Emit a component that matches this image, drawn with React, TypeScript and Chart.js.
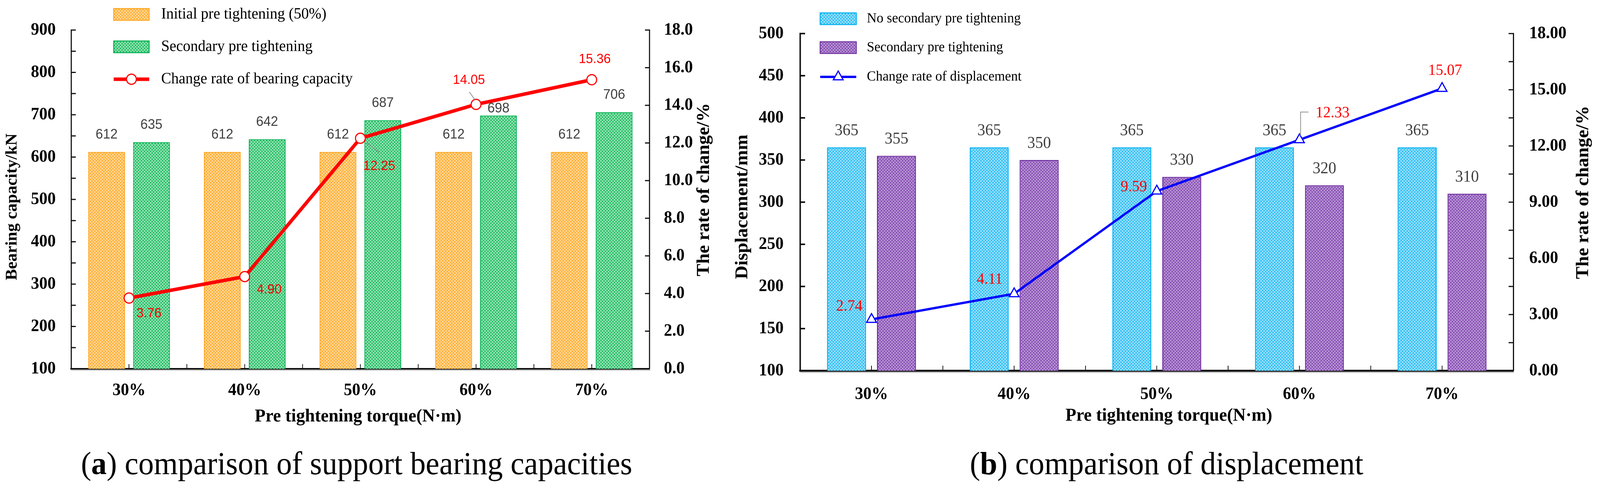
import React, { useEffect, useRef } from 'react';
import { Chart, registerables } from 'chart.js';

Chart.register(...registerables);

// ---------------- data ----------------
const categories = ['30%', '40%', '50%', '60%', '70%'];

const initialPreTightening = [612, 612, 612, 612, 612];
const secondaryCapacity = [635, 642, 687, 698, 706];
const capacityChangeRate = [3.76, 4.9, 12.25, 14.05, 15.36];

const noSecondaryDisplacement = [365, 365, 365, 365, 365];
const secondaryDisplacement = [355, 350, 330, 320, 310];
const displacementChangeRate = [2.74, 4.11, 9.59, 12.33, 15.07];

const capacityAxisTicks = { min: 100, max: 900, step: 50, labelEvery: 100 };
const capacityRateTicks = { min: 0, max: 18, step: 2, decimals: 1 };
const displacementAxisTicks = { min: 100, max: 500, step: 50 };
const displacementRateTicks = { min: 0, max: 18, step: 1.5, labelEvery: 3, decimals: 2 };

// ---------------- styles ----------------
const PAGE_W = 4249;
const PAGE_H = 1253;
const SERIF = '"Liberation Serif", "Times New Roman", serif';
const SANS = '"Liberation Sans", Arial, sans-serif';

function makePattern(base: string, light: string, size = 8, lw = 1.6) {
  const c = document.createElement('canvas');
  c.width = size;
  c.height = size;
  const g = c.getContext('2d')!;
  g.fillStyle = base;
  g.fillRect(0, 0, size, size);
  g.strokeStyle = light;
  g.lineWidth = lw;
  g.beginPath();
  for (const o of [-size, 0, size]) {
    g.moveTo(o, 0);
    g.lineTo(o + size, size);
    g.moveTo(o + size, 0);
    g.lineTo(o, size);
  }
  g.stroke();
  return g.createPattern(c, 'repeat') as CanvasPattern;
}

function drawMarker(ctx: CanvasRenderingContext2D, kind: string, x: number, y: number, r: number, color: string, lw: number) {
  ctx.save();
  ctx.fillStyle = '#ffffff';
  ctx.strokeStyle = color;
  ctx.lineWidth = lw;
  ctx.beginPath();
  if (kind === 'circle') {
    ctx.arc(x, y, r, 0, Math.PI * 2);
  } else {
    ctx.moveTo(x, y - r);
    ctx.lineTo(x + 0.866 * r, y + 0.5 * r);
    ctx.lineTo(x - 0.866 * r, y + 0.5 * r);
    ctx.closePath();
  }
  ctx.fill();
  ctx.stroke();
  ctx.restore();
}

function line(ctx: CanvasRenderingContext2D, x1: number, y1: number, x2: number, y2: number) {
  ctx.beginPath();
  ctx.moveTo(x1, y1);
  ctx.lineTo(x2, y2);
  ctx.stroke();
}

function decorPlugin(d: any) {
  return {
    id: d.id,
    afterDatasetsDraw(chart: any) {
      const ctx: CanvasRenderingContext2D = chart.ctx;
      ctx.save();
      ctx.textAlign = 'center';
      ctx.textBaseline = 'middle';
      // bar value labels
      ctx.font = d.barLabel.font;
      ctx.fillStyle = d.barLabel.color;
      d.barLabel.datasets.forEach((di: number, k: number) => {
        const meta = chart.getDatasetMeta(di);
        const ds = chart.data.datasets[di];
        const gaps = d.barLabel.gaps[k];
        meta.data.forEach((el: any, j: number) => {
          ctx.fillText(String(ds.data[j]), el.x, el.y - gaps[j]);
        });
      });
      // line value labels with leader lines
      const lm = chart.getDatasetMeta(d.lineLabel.dataset);
      const lds = chart.data.datasets[d.lineLabel.dataset];
      lm.data.forEach((el: any, j: number) => {
        const leader = d.lineLabel.leaders[j];
        if (leader) {
          ctx.strokeStyle = '#8f8f8f';
          ctx.lineWidth = 2;
          ctx.beginPath();
          leader.forEach((p: number[], k: number) => {
            if (k === 0) ctx.moveTo(el.x + p[0], el.y + p[1]);
            else ctx.lineTo(el.x + p[0], el.y + p[1]);
          });
          ctx.stroke();
        }
        const off = d.lineLabel.offsets[j];
        ctx.font = d.lineLabel.font;
        ctx.fillStyle = d.lineLabel.color;
        ctx.fillText(Number(lds.data[j]).toFixed(2), el.x + off[0], el.y + off[1]);
      });
      ctx.restore();
    },
    afterDraw(chart: any) {
      const ctx: CanvasRenderingContext2D = chart.ctx;
      const { left, right, bottom } = chart.chartArea;
      const L = d.tickLen;
      ctx.save();
      ctx.strokeStyle = d.axisColor;
      // inward tick marks on both value axes
      const ys = chart.scales.y;
      ctx.lineWidth = d.leftTickWidth;
      ys.ticks.forEach((t: any) => {
        const py = ys.getPixelForValue(t.value);
        line(ctx, left, py, left + L, py);
      });
      const y1 = chart.scales.y1;
      ctx.lineWidth = d.rightTickWidth;
      y1.ticks.forEach((t: any) => {
        const py = y1.getPixelForValue(t.value);
        line(ctx, right, py, right - L, py);
      });
      // category axis: ticks at centres and between categories
      const xs = chart.scales.x;
      const n = chart.data.labels.length;
      ctx.lineWidth = d.xTickWidth;
      for (let i = 0; i < n; i++) {
        const px = xs.getPixelForValue(i);
        line(ctx, px, bottom, px, bottom - L);
        if (i < n - 1) {
          const pm = (px + xs.getPixelForValue(i + 1)) / 2;
          line(ctx, pm, bottom, pm, bottom - L);
        }
      }
      // soft shadow under the category axis
      ctx.strokeStyle = 'rgba(150,150,150,0.55)';
      ctx.lineWidth = 3;
      line(ctx, left, bottom + d.xBorder / 2 + 1.5, right + 2, bottom + d.xBorder / 2 + 1.5);
      ctx.restore();

      // axis titles
      d.titles.forEach((t: any) => {
        ctx.save();
        ctx.font = t.font;
        ctx.fillStyle = '#000';
        ctx.textAlign = 'center';
        ctx.textBaseline = 'middle';
        ctx.translate(t.x, t.y);
        if (t.rotate) ctx.rotate(-Math.PI / 2);
        ctx.fillText(t.text, 0, 0);
        ctx.restore();
      });

      // legend (placed over the plot, as in the figure)
      const lg = d.legend;
      lg.items.forEach((it: any) => {
        const ds = chart.data.datasets[it.dataset];
        const y = it.y;
        ctx.save();
        if (it.kind === 'box') {
          ctx.fillStyle = ds.backgroundColor;
          ctx.fillRect(lg.x, y - lg.h / 2, lg.w, lg.h);
          ctx.strokeStyle = ds.borderColor;
          ctx.lineWidth = 2.5;
          ctx.strokeRect(lg.x, y - lg.h / 2, lg.w, lg.h);
        } else {
          ctx.strokeStyle = ds.borderColor;
          ctx.lineWidth = ds.borderWidth;
          line(ctx, lg.x, y, lg.x + lg.w, y);
          drawMarker(ctx, it.kind, lg.x + lg.w / 2, y, ds.pointRadius, ds.pointBorderColor, ds.pointBorderWidth);
        }
        ctx.font = lg.font;
        ctx.fillStyle = '#000';
        ctx.textAlign = 'left';
        ctx.textBaseline = 'middle';
        ctx.fillText(ds.label, lg.textX, y);
        ctx.restore();
      });
    },
  };
}

function axisCommon(borderWidth: number, fontSize: number, padding: number) {
  return {
    grid: { display: true, drawOnChartArea: false, drawTicks: false, tickLength: 0 },
    border: { display: true, color: '#111111', width: borderWidth },
    ticks: {
      color: '#000000',
      font: { family: SERIF, size: fontSize, weight: 'bold' },
      padding,
      autoSkip: false,
      maxRotation: 0,
      minRotation: 0,
    },
  };
}

function buildCapacityChart(canvas: HTMLCanvasElement) {
  const orange = '#FFA51F';
  const green = '#00B050';
  const red = '#FF0000';
  const orangeFill = makePattern('#FFA51F', 'rgba(255,236,196,0.9)');
  const greenFill = makePattern('#12B556', 'rgba(195,245,215,0.9)');

  const xAxis: any = axisCommon(4, 44, 29);
  const yAxis: any = axisCommon(3, 44, 41);
  const y1Axis: any = axisCommon(3, 44, 38);

  const decor = decorPlugin({
    id: 'decorCapacity',
    tickLen: 12,
    axisColor: '#111111',
    leftTickWidth: 3,
    rightTickWidth: 3,
    xTickWidth: 2,
    xBorder: 4,
    barLabel: {
      font: `35px ${SANS}`,
      color: '#404040',
      datasets: [1, 2],
      gaps: [
        [44, 44, 44, 44, 44],
        [44, 44, 44, 18, 44],
      ],
    },
    lineLabel: {
      font: `34px ${SANS}`,
      color: '#FF0000',
      dataset: 0,
      offsets: [[53, 40], [65, 34], [50, 72], [-19, -62], [8, -52]],
      leaders: [null, null, [[17, 12], [50, 36]], [[-18, -32], [-3, -12]], null],
    },
    titles: [
      { text: 'Bearing capacity/kN', x: 33, y: 530, font: `bold 43px ${SERIF}`, rotate: true },
      { text: 'The rate of change/%', x: 1870, y: 486, font: `bold 48px ${SERIF}`, rotate: true },
      { text: 'Pre tightening torque(N·m)', x: 951, y: 1068, font: `bold 47px ${SERIF}`, rotate: false },
    ],
    legend: {
      x: 302,
      w: 94,
      h: 30,
      textX: 428,
      font: `40px ${SERIF}`,
      items: [
        { dataset: 1, kind: 'box', y: 37 },
        { dataset: 2, kind: 'box', y: 120 },
        { dataset: 0, kind: 'circle', y: 203 },
      ],
    },
  });

  return new Chart(canvas, {
    type: 'bar',
    data: {
      labels: categories,
      datasets: [
        {
          type: 'line',
          label: 'Change rate of bearing capacity',
          data: capacityChangeRate,
          yAxisID: 'y1',
          borderColor: red,
          borderWidth: 9,
          pointStyle: 'circle',
          pointRadius: 13,
          pointBorderWidth: 3,
          pointBackgroundColor: '#ffffff',
          pointBorderColor: red,
          tension: 0,
          order: 0,
        } as any,
        {
          label: 'Initial pre tightening (50%)',
          data: initialPreTightening,
          yAxisID: 'y',
          backgroundColor: orangeFill,
          borderColor: orange,
          borderWidth: 2,
          categoryPercentage: 0.775,
          barPercentage: 0.82,
          order: 1,
        },
        {
          label: 'Secondary pre tightening',
          data: secondaryCapacity,
          yAxisID: 'y',
          backgroundColor: greenFill,
          borderColor: green,
          borderWidth: 2,
          categoryPercentage: 0.775,
          barPercentage: 0.82,
          order: 1,
        },
      ],
    },
    options: {
      responsive: false,
      animation: false,
      devicePixelRatio: 2,
      events: [],
      layout: { padding: { top: 77, left: 0, right: 0, bottom: 0 } },
      plugins: { legend: { display: false }, tooltip: { enabled: false }, title: { display: false } },
      scales: {
        x: {
          ...xAxis,
          type: 'category',
          offset: true,
          afterFit: (s: any) => {
            s.height = 175;
          },
        },
        y: {
          ...yAxis,
          type: 'linear',
          position: 'left',
          min: capacityAxisTicks.min,
          max: capacityAxisTicks.max,
          ticks: {
            ...yAxis.ticks,
            stepSize: capacityAxisTicks.step,
            callback: (v: any) => (Number(v) % capacityAxisTicks.labelEvery === 0 ? String(v) : ''),
          },
          afterFit: (s: any) => {
            s.width = 189;
          },
        },
        y1: {
          ...y1Axis,
          type: 'linear',
          position: 'right',
          min: capacityRateTicks.min,
          max: capacityRateTicks.max,
          ticks: {
            ...y1Axis.ticks,
            stepSize: capacityRateTicks.step,
            callback: (v: any) => Number(v).toFixed(capacityRateTicks.decimals),
          },
          afterFit: (s: any) => {
            s.width = 200;
          },
        },
      },
    } as any,
    plugins: [decor],
  });
}

function buildDisplacementChart(canvas: HTMLCanvasElement) {
  const cyan = '#00B0F0';
  const purple = '#7030A0';
  const blue = '#0000FF';
  const cyanFill = makePattern('#1CB8F2', 'rgba(200,240,255,0.9)');
  const purpleFill = makePattern('#7E44AC', 'rgba(215,190,235,0.8)');

  const xAxis: any = axisCommon(5, 44, 34);
  const yAxis: any = axisCommon(4, 44, 44);
  const y1Axis: any = axisCommon(3, 44, 42);

  const decor = decorPlugin({
    id: 'decorDisplacement',
    tickLen: 13,
    axisColor: '#111111',
    leftTickWidth: 4,
    rightTickWidth: 3,
    xTickWidth: 2,
    xBorder: 5,
    barLabel: {
      font: `42px ${SERIF}`,
      color: '#404040',
      datasets: [1, 2],
      gaps: [
        [42, 42, 42, 42, 42],
        [42, 42, 42, 42, 42],
      ],
    },
    lineLabel: {
      font: `40px ${SERIF}`,
      color: '#FF0000',
      dataset: 0,
      offsets: [[-59, -33], [-65, -36], [-61, -10], [88, -68], [8, -45]],
      leaders: [null, null, null, [[3, -10], [3, -71], [24, -71]], null],
    },
    titles: [
      { text: 'Displacement/mm', x: 47, y: 530, font: `bold 48px ${SERIF}`, rotate: true },
      { text: 'The rate of change/%', x: 2280, y: 493, font: `bold 48px ${SERIF}`, rotate: true },
      { text: 'Pre tightening torque(N·m)', x: 1179, y: 1066, font: `bold 47px ${SERIF}`, rotate: false },
    ],
    legend: {
      x: 253,
      w: 96,
      h: 30,
      textX: 377,
      font: `36px ${SERIF}`,
      items: [
        { dataset: 1, kind: 'box', y: 48 },
        { dataset: 2, kind: 'box', y: 122 },
        { dataset: 0, kind: 'triangle', y: 197 },
      ],
    },
  });

  return new Chart(canvas, {
    type: 'bar',
    data: {
      labels: categories,
      datasets: [
        {
          type: 'line',
          label: 'Change rate of displacement',
          data: displacementChangeRate,
          yAxisID: 'y1',
          borderColor: blue,
          borderWidth: 6,
          pointStyle: 'triangle',
          pointRadius: 15,
          pointBorderWidth: 3,
          pointBackgroundColor: '#ffffff',
          pointBorderColor: blue,
          tension: 0,
          order: 0,
        } as any,
        {
          label: 'No secondary pre tightening',
          data: noSecondaryDisplacement,
          yAxisID: 'y',
          backgroundColor: cyanFill,
          borderColor: cyan,
          borderWidth: 2.5,
          categoryPercentage: 0.7,
          barPercentage: 0.78,
          order: 1,
        },
        {
          label: 'Secondary pre tightening',
          data: secondaryDisplacement,
          yAxisID: 'y',
          backgroundColor: purpleFill,
          borderColor: purple,
          borderWidth: 2.5,
          categoryPercentage: 0.7,
          barPercentage: 0.78,
          order: 1,
        },
      ],
    },
    options: {
      responsive: false,
      animation: false,
      devicePixelRatio: 2,
      events: [],
      layout: { padding: { top: 86, left: 0, right: 0, bottom: 0 } },
      plugins: { legend: { display: false }, tooltip: { enabled: false }, title: { display: false } },
      scales: {
        x: {
          ...xAxis,
          type: 'category',
          offset: true,
          afterFit: (s: any) => {
            s.height = 170;
          },
        },
        y: {
          ...yAxis,
          type: 'linear',
          position: 'left',
          min: displacementAxisTicks.min,
          max: displacementAxisTicks.max,
          ticks: { ...yAxis.ticks, stepSize: displacementAxisTicks.step, callback: (v: any) => String(v) },
          afterFit: (s: any) => {
            s.width = 200;
          },
        },
        y1: {
          ...y1Axis,
          type: 'linear',
          position: 'right',
          min: displacementRateTicks.min,
          max: displacementRateTicks.max,
          ticks: {
            ...y1Axis.ticks,
            stepSize: displacementRateTicks.step,
            callback: (v: any) => {
              const q = Number(v) / displacementRateTicks.labelEvery;
              return Math.abs(q - Math.round(q)) < 1e-6 ? Number(v).toFixed(displacementRateTicks.decimals) : '';
            },
          },
          afterFit: (s: any) => {
            s.width = 230;
          },
        },
      },
    } as any,
    plugins: [decor],
  });
}

function ChartBox({ build, left, width, height }: any) {
  const ref = useRef<HTMLCanvasElement>(null);
  useEffect(() => {
    const chart = build(ref.current!);
    return () => chart.destroy();
  }, []);
  return (
    <div style={{ position: 'absolute', left, top: 0, width, height }}>
      <canvas ref={ref} width={width} height={height} style={{ width, height, display: 'block' }} />
    </div>
  );
}

function Caption({ centerX, top, children }: { centerX: number; top: number; children: any }) {
  return (
    <div
      style={{
        position: 'absolute',
        left: centerX - 1000,
        width: 2000,
        top,
        height: 100,
        lineHeight: '100px',
        textAlign: 'center',
        fontFamily: SERIF,
        fontSize: 82,
        color: '#000',
        whiteSpace: 'nowrap',
      }}
    >
      {children}
    </div>
  );
}

export default function App() {
  // the browser viewport may be narrower than the figure; squeeze horizontally to fit it
  const vw = typeof window !== 'undefined' ? window.innerWidth : PAGE_W;
  const sx = Math.min(1, vw / PAGE_W);
  return (
    <div
      style={{
        position: 'absolute',
        left: 0,
        top: 0,
        width: PAGE_W,
        height: PAGE_H,
        background: '#ffffff',
        overflow: 'hidden',
        transform: `scaleX(${sx})`,
        transformOrigin: '0 0',
      }}
    >
      <ChartBox build={buildCapacityChart} left={0} width={1925} height={1120} />
      <ChartBox build={buildDisplacementChart} left={1925} width={2324} height={1120} />
      <Caption centerX={947} top={1138}>
        (<b>a</b>) comparison of support bearing capacities
      </Caption>
      <Caption centerX={3098} top={1138}>
        (<b>b</b>) comparison of displacement
      </Caption>
    </div>
  );
}
